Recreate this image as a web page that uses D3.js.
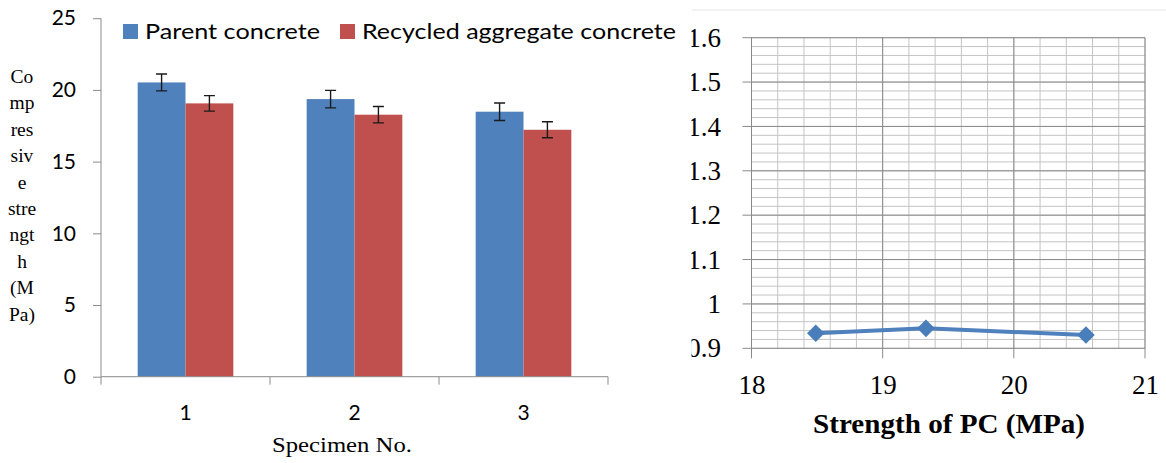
<!DOCTYPE html>
<html><head><meta charset="utf-8">
<script src="https://cdn.jsdelivr.net/npm/d3@7"></script>
<style>
html,body{margin:0;padding:0;background:#fff;}
svg{display:block;}
</style></head>
<body>
<svg id="chart" width="1166" height="463"></svg>
<script>
// ---- data ----
const specimens = ["1", "2", "3"];
const seriesNames = ["Parent concrete", "Recycled aggregate concrete"];
const parentStrength = [20.52, 19.36, 18.48];
const recycledStrength = [19.06, 18.27, 17.22];
const parentError = [0.59, 0.61, 0.61];
const recycledError = [0.54, 0.57, 0.56];
const leftYTicks = [0, 5, 10, 15, 20, 25];
const yTitleLines = ["Co", "mp", "res", "siv", "e", "stre", "ngt", "h", "(M", "Pa)"];

const ratioX = [18.49, 19.33, 20.55];
const ratioY = [0.934, 0.945, 0.930];
const rightXTicks = [18, 19, 20, 21];
const rightYTicks = [0.9, 1.0, 1.1, 1.2, 1.3, 1.4, 1.5, 1.6];

const colors = ["#4f81bd", "#c0504d"];
const svg = d3.select("#chart");

// ---- left chart ----
const L = svg.append("g");
const y = d3.scaleLinear().domain([0, 25]).range([376.7, 18.2]);
const x0 = d3.scaleBand().domain(specimens).range([101, 608]);
const bw = x0.bandwidth();
const x1 = d3.scaleBand().domain(seriesNames).range([bw * 0.217, bw * 0.783]);
const vals = [parentStrength, recycledStrength];
const errs = [parentError, recycledError];

// y axis
const yAxis = d3.axisLeft(y).tickValues(leftYTicks).tickSize(8).tickPadding(17);
const ga = L.append("g").attr("transform", "translate(101,0)").call(yAxis);
ga.select(".domain").attr("stroke", "#8c8c8c").attr("d", "M0,18.2V376.7");
ga.selectAll(".tick line").attr("stroke", "#8c8c8c");
ga.selectAll(".tick text").style("font-family", "Lato").style("font-size", "21px").attr("fill", "#000");

// bars
seriesNames.forEach((s, si) => {
  L.append("g").selectAll("rect").data(specimens).join("rect")
    .attr("x", d => x0(d) + x1(s))
    .attr("width", x1.bandwidth())
    .attr("y", (d, i) => y(vals[si][i]))
    .attr("height", (d, i) => y(0) - y(vals[si][i]))
    .attr("fill", colors[si]);
});
// error bars
seriesNames.forEach((s, si) => {
  const g = L.append("g").attr("stroke", "#1a1a1a").attr("stroke-width", 1.4).attr("fill", "none");
  specimens.forEach((d, i) => {
    const cx = x0(d) + x1(s) + x1.bandwidth() / 2;
    const t = y(vals[si][i] + errs[si][i]), b = y(vals[si][i] - errs[si][i]);
    g.append("path").attr("d", `M${cx},${t}V${b}M${cx-5.5},${t}H${cx+5.5}M${cx-5.5},${b}H${cx+5.5}`);
  });
});

// x axis
const xAxis = d3.axisBottom(x0).tickSize(0).tickPadding(28);
const gx = L.append("g").attr("transform", `translate(0,${y(0)})`).call(xAxis);
gx.select(".domain").attr("stroke", "#8c8c8c").attr("d", "M101,0H608");
gx.selectAll(".tick text").style("font-family", "Lato").style("font-size", "21px").attr("fill", "#000");
const sep = x0.domain().map(d => x0(d)).concat([608]);
L.append("g").selectAll("line").data(sep).join("line")
  .attr("x1", d => d).attr("x2", d => d)
  .attr("y1", y(0)).attr("y2", y(0) + 8)
  .attr("stroke", "#8c8c8c");

// legend
const legX = [123, 340];
const legTextW = [175, 314];
seriesNames.forEach((s, i) => {
  L.append("rect").attr("x", legX[i]).attr("y", 24).attr("width", 15).attr("height", 15).attr("fill", colors[i]);
  L.append("text").attr("x", legX[i] + 22).attr("y", 39)
    .style("font-family", "Lato").style("font-size", "22px").attr("fill", "#000")
    .attr("textLength", legTextW[i]).attr("lengthAdjust", "spacingAndGlyphs")
    .text(s);
});

// axis titles
L.append("text").attr("x", 342).attr("y", 452).attr("text-anchor", "middle")
  .style("font-family", "'Liberation Serif'").style("font-size", "22px")
  .attr("textLength", 140).attr("lengthAdjust", "spacingAndGlyphs")
  .text("Specimen No.");
L.append("g").selectAll("text").data(yTitleLines).join("text")
  .attr("x", 22).attr("y", (d, i) => 83 + i * 26.4)
  .attr("text-anchor", "middle")
  .style("font-family", "'Liberation Serif'").style("font-size", "19.5px")
  .text(d => d);

// ---- right chart ----
const R = svg.append("g");
svg.append("defs").append("clipPath").attr("id", "rclip")
  .append("rect").attr("x", 691.5).attr("y", 0).attr("width", 480).attr("height", 463);
R.attr("clip-path", "url(#rclip)");
R.append("line").attr("x1", 690).attr("x2", 1166).attr("y1", 10).attr("y2", 10)
  .attr("stroke", "#e6e6e6").attr("stroke-width", 1);

const rx = d3.scaleLinear().domain([18, 21]).range([751.5, 1145]);
const ry = d3.scaleLinear().domain([0.9, 1.6]).range([348.3, 37.7]);

// minor grid
const minorX = d3.range(18, 21.0001, 0.2).map(v => +v.toFixed(2));
const minorY = d3.range(0.9, 1.6001, 0.02).map(v => +v.toFixed(3));
R.append("g").selectAll("line").data(minorY).join("line")
  .attr("x1", rx(18)).attr("x2", rx(21))
  .attr("y1", d => ry(d)).attr("y2", d => ry(d))
  .attr("stroke", "#c4c4c4").attr("stroke-width", 1);
R.append("g").selectAll("line").data(minorX).join("line")
  .attr("x1", d => rx(d)).attr("x2", d => rx(d))
  .attr("y1", ry(1.6)).attr("y2", ry(0.9))
  .attr("stroke", "#c4c4c4").attr("stroke-width", 1);
// major grid
R.append("g").selectAll("line").data(rightYTicks).join("line")
  .attr("x1", rx(18) - 9).attr("x2", rx(21))
  .attr("y1", d => ry(d)).attr("y2", d => ry(d))
  .attr("stroke", "#8a8a8a").attr("stroke-width", 1);
R.append("g").selectAll("line").data(rightXTicks).join("line")
  .attr("x1", d => rx(d)).attr("x2", d => rx(d))
  .attr("y1", ry(1.6)).attr("y2", ry(0.9) + 10)
  .attr("stroke", "#8a8a8a").attr("stroke-width", 1);

// axes labels
const ryAxis = d3.axisLeft(ry).tickValues(rightYTicks).tickSize(0).tickPadding(30.5)
  .tickFormat(d => d3.format("")(+d.toFixed(1)));
const gry = R.append("g").attr("transform", `translate(${rx(18)},0)`).call(ryAxis);
gry.select(".domain").remove();
gry.selectAll(".tick text").style("font-family", "'Liberation Serif'").style("font-size", "27px").attr("fill", "#000");

const rxAxis = d3.axisBottom(rx).tickValues(rightXTicks).tickSize(0).tickPadding(27).tickFormat(d3.format("d"));
const grx = R.append("g").attr("transform", `translate(0,${ry(0.9)})`).call(rxAxis);
grx.select(".domain").remove();
grx.selectAll(".tick text").style("font-family", "'Liberation Serif'").style("font-size", "27px").attr("fill", "#000");

R.append("text").attr("x", 949).attr("y", 433).attr("text-anchor", "middle")
  .style("font-family", "'Liberation Serif'").style("font-weight", "bold").style("font-size", "28px")
  .attr("textLength", 272).attr("lengthAdjust", "spacingAndGlyphs")
  .text("Strength of PC (MPa)");

// line + markers
const pts = ratioX.map((v, i) => [v, ratioY[i]]);
R.append("path").datum(pts)
  .attr("d", d3.line().x(d => rx(d[0])).y(d => ry(d[1])))
  .attr("fill", "none").attr("stroke", "#4f81bd").attr("stroke-width", 4);
R.append("g").selectAll("path").data(pts).join("path")
  .attr("transform", d => `translate(${rx(d[0])},${ry(d[1])}) rotate(45)`)
  .attr("d", d3.symbol(d3.symbolSquare, 155))
  .attr("fill", "#4a7ebb");
</script>
</body></html>
